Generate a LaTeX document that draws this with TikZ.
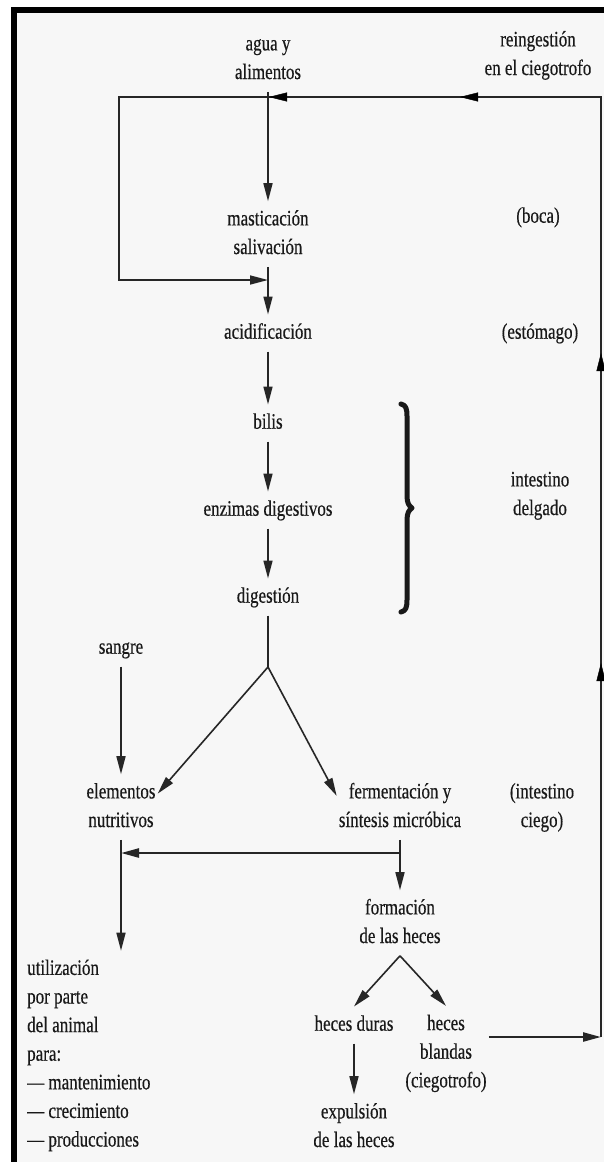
\documentclass[tikz,border=0pt]{standalone}
\usepackage{fontspec}
\setmainfont[FakeBold=0.5]{Liberation Serif}
\usepackage{graphicx}
\usetikzlibrary{arrows.meta,decorations.markings,calc}
\newcommand{\tl}[2][c]{\scalebox{1}[1.3]{\begin{tabular}{@{}#1@{}}#2\end{tabular}}}
\begin{document}
\begin{tikzpicture}[x=1pt,y=-1pt,
  lbl/.style={inner xsep=2pt, inner ysep=4pt, text=black!90, font=\fontsize{17}{22}\selectfont},
  ln/.style={color=black!85, line width=1.6pt},
  thk/.style={color=black!85, line width=2.4pt},
  tip/.style={-{Triangle[length=18pt,width=9pt]}},
  arr/.style={ln, tip},
  bracestyle/.style={draw=black!90, line width=5pt, line cap=round, line join=round},
]
\useasboundingbox (0,0) rectangle (604,1162);
\fill[white] (0,0) rectangle (604,1162);
\fill[black!3] (17,13) rectangle (604,1162);
\fill[black] (11,7) rectangle (17,1162);
\fill[black] (11,7) rectangle (604,13);

% main column
\node[lbl] (agua) at (268,59) {\tl{agua y\\alimentos}};
\node[lbl] (mast) at (268,234) {\tl{masticación\\salivación}};
\node[lbl] (acid) at (268,333) {\tl{acidificación}};
\node[lbl] (bilis) at (268,423) {\tl{bilis}};
\node[lbl] (enz) at (268,510) {\tl{enzimas digestivos}};
\node[lbl] (dig) at (268,597) {\tl{digestión}};
\node[lbl] (sangre) at (121,648) {\tl{sangre}};
\node[lbl] (elem) at (121,807) {\tl{elementos\\nutritivos}};
\node[lbl] (ferm) at (400,807) {\tl{fermentación y\\síntesis micróbica}};
\node[lbl] (form) at (400,923) {\tl{formación\\de las heces}};
\node[lbl] (duras) at (354,1025) {\tl{heces duras}};
\node[lbl] (blandas) at (446,1053) {\tl{heces\\blandas\\(ciegotrofo)}};
\node[lbl] (expul) at (354,1127) {\tl{expulsión\\de las heces}};
\node[lbl, anchor=west] (util) at (25,1055) {\tl[l]{utilización\\por parte\\del animal\\para:\\--- mantenimiento\\--- crecimiento\\--- producciones}};

% right-hand labels
\node[lbl] (reing) at (538,55) {\tl{reingestión\\en el ciegotrofo}};
\node[lbl] (boca) at (538,217) {\tl{(boca)}};
\node[lbl] (estom) at (540,333) {\tl{(estómago)}};
\node[lbl] (idel) at (540,495) {\tl{intestino\\delgado}};
\node[lbl] (iciego) at (542,807) {\tl{(intestino\\ciego)}};

% brace
\draw[bracestyle] (401,404) .. controls (406,405) and (407,409) .. (407,416)
  -- (407,496) .. controls (407,503) and (409,506) .. (412,508)
  .. controls (409,510) and (407,513) .. (407,520)
  -- (407,600) .. controls (407,607) and (406,611) .. (401,612);

% coordinates
\coordinate (c1) at (601,1037);
\coordinate (c2) at (601,97);
\coordinate (c3) at (119,97);
\coordinate (c4) at (119,280);
\coordinate (c5) at (268,280);
\coordinate (fk) at (268,667);
\coordinate (hj) at (400,853);

% vertical chain
\draw[arr] (agua) -- (mast);
\draw[arr] (mast) -- (acid);
\draw[arr] (acid) -- (bilis);
\draw[arr] (bilis) -- (enz);
\draw[arr] (enz) -- (dig);
\draw[ln] (dig) -- (fk);
\draw[arr] (fk) -- (elem.20);
\draw[arr] (fk) -- (ferm.170);
\draw[arr] (sangre) -- (elem);
\draw[arr] (elem) -- (elem.south |- util.north);
\draw[arr] (ferm) -- (form);
\draw[thk, tip] (hj) -- (elem.south |- hj);
\draw[arr] (form.south) -- (duras.north);
\draw[arr] (form.south) -- (blandas.north);
\draw[arr] (duras) -- (expul);

% reingestion loop
\draw[thk, tip] (blandas.east |- c1) -- (c1);
\draw[ln, tip] (c1) -- (c2) -- (c3) -- (c4) -- (c5);
\draw[thk] (c2) -- (c3);
\path[color=black!85, decorate, decoration={markings,
  mark=at position 374pt with {\arrow{Triangle[length=18pt,width=9pt]}},
  mark=at position 684pt with {\arrow{Triangle[length=18pt,width=9pt]}},
  mark=at position 1081pt with {\arrow{Triangle[length=18pt,width=9pt]}},
  mark=at position 1272pt with {\arrow{Triangle[length=18pt,width=9pt]}}}]
  (c1) -- (c2) -- (c3) -- (c4) -- (c5);
\end{tikzpicture}
\end{document}
